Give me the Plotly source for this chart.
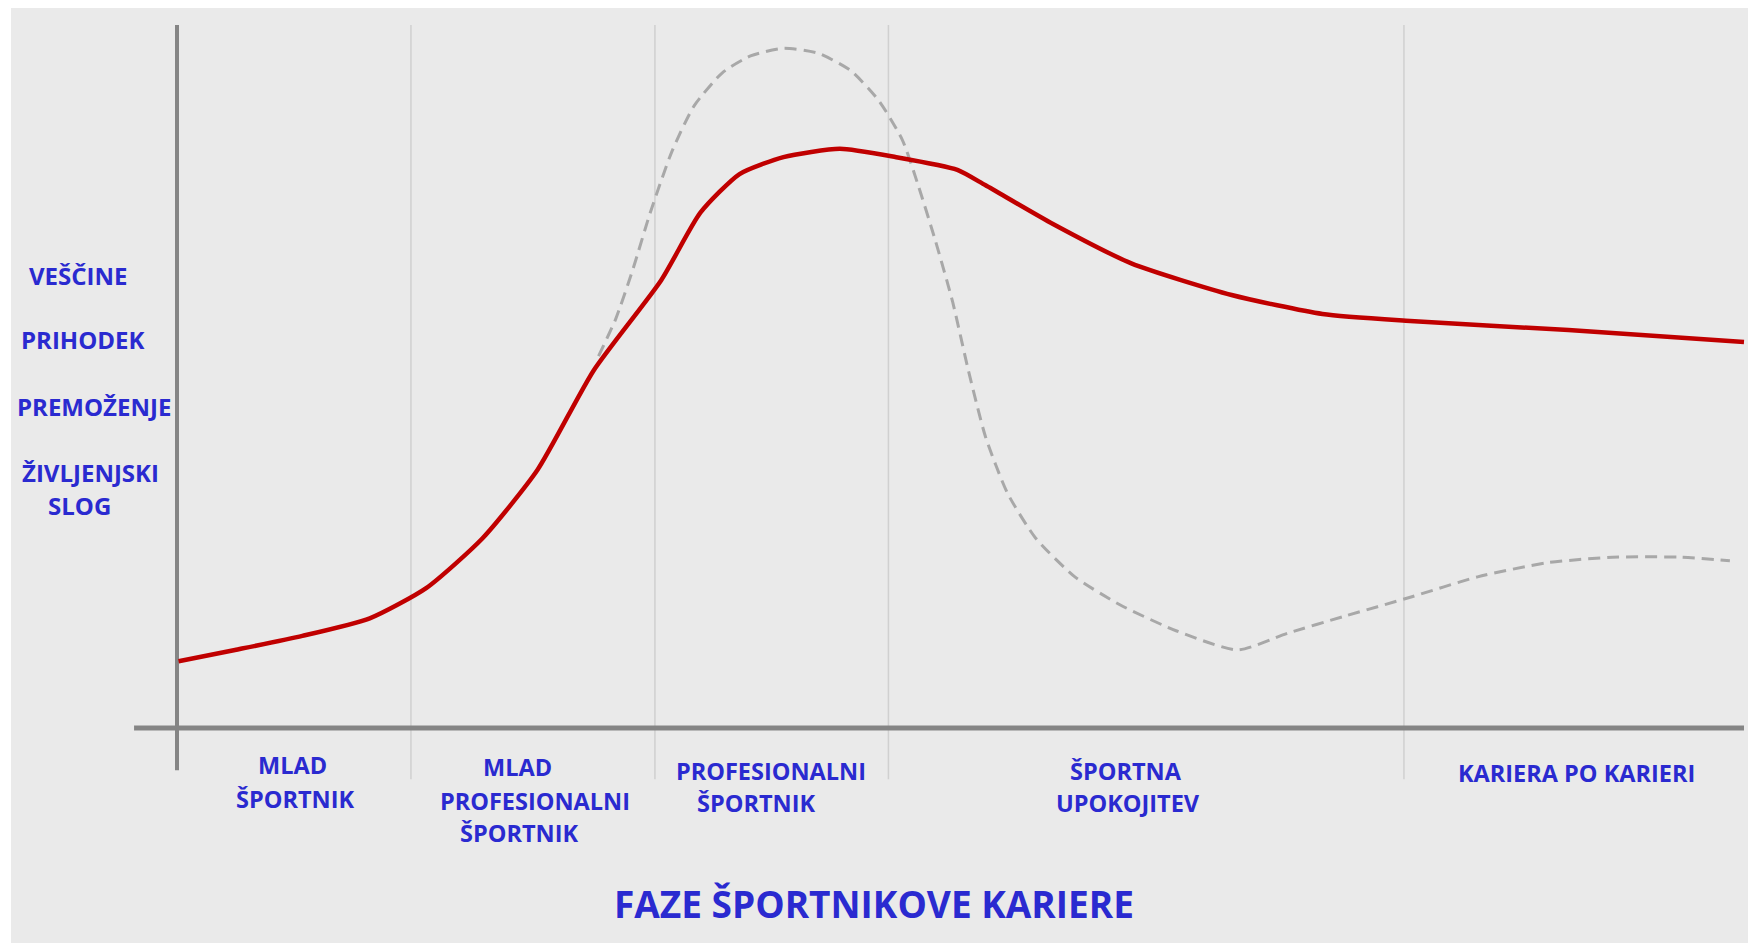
import plotly.graph_objects as go

# ---- data (career time 0-100, level 0-100) ----
red_x = [0.1, 3.7, 8.0, 12.3, 15.9, 19.5, 23.0, 26.6, 30.9, 33.4, 35.9, 38.7, 42.3,
         45.9, 49.8, 51.6, 55.9, 60.9, 67.3, 73.1, 78.7, 88.8, 100.0]
red_y = [9.5, 11.1, 13.1, 15.6, 19.9, 27.0, 36.7, 50.9, 63.7, 73.3, 78.8, 81.2, 82.4,
         81.2, 79.4, 77.2, 71.7, 66.1, 61.6, 58.9, 57.9, 56.6, 54.9]

dash_x = [26.9, 28.0, 29.1, 30.2, 31.6, 33.0, 34.8, 36.6, 38.7, 40.9, 43.0, 44.8, 46.3,
          47.3, 48.4, 49.5, 50.5, 51.6, 53.0, 54.8, 57.3, 60.2, 63.8, 67.7, 70.9, 74.5,
          78.7, 83.0, 87.4, 91.6, 95.9, 99.1]
dash_y = [52.9, 58.2, 65.3, 73.3, 82.1, 88.5, 93.2, 95.6, 96.7, 96.0, 93.5, 89.2, 83.6,
          77.2, 69.3, 60.6, 50.9, 41.4, 33.4, 27.0, 21.5, 17.5, 13.8, 11.1, 13.5, 15.9,
          18.6, 21.5, 23.5, 24.3, 24.3, 23.8]

phase_bounds = [14.93, 30.5, 45.4, 78.3]

y_labels = ["VEŠČINE", "PRIHODEK", "PREMOŽENJE", "ŽIVLJENJSKI", "SLOG"]
phase_labels = [
    ["MLAD", "ŠPORTNIK"],
    ["MLAD", "PROFESIONALNI", "ŠPORTNIK"],
    ["PROFESIONALNI", "ŠPORTNIK"],
    ["ŠPORTNA", "UPOKOJITEV"],
    ["KARIERA PO KARIERI"],
]
title_text = "FAZE ŠPORTNIKOVE KARIERE"

# ---- layout helpers (positions) ----
y_label_pos = [(-6.3, 64.4), (-6.0, 55.2), (-5.3, 45.7), (-5.55, 36.4), (-6.2, 31.6)]
phase_label_pos = [
    [(7.34, -5.26), (7.53, -10.1)],
    [(21.76, -5.55), (22.85, -10.38), (21.83, -14.94)],
    [(37.9, -6.1), (36.95, -10.67)],
    [(60.56, -6.1), (60.69, -10.67)],
    [(89.28, -6.4)],
]

BLUE = "#2a2ad0"
FONT = "Open Sans"
W, H = 1748, 935  # page body adds an 8px offset

fig = go.Figure()

fig.add_trace(go.Scatter(
    x=dash_x, y=dash_y, mode="lines",
    line=dict(color="#a8a8a8", width=3, dash="12px,7px", shape="spline", smoothing=0.6),
    hoverinfo="skip", showlegend=False))
fig.add_trace(go.Scatter(
    x=red_x, y=red_y, mode="lines",
    line=dict(color="#c00000", width=4.5, shape="spline", smoothing=0.6),
    hoverinfo="skip", showlegend=False))

shapes = []
# background panel
shapes.append(dict(type="rect", xref="paper", yref="paper", x0=3/W, x1=1, y0=0, y1=1,
                   fillcolor="#eaeaea", line=dict(width=0), layer="below"))
# phase gridlines
for b in phase_bounds:
    shapes.append(dict(type="line", xref="x", yref="y", x0=b, x1=b, y0=-7.3, y1=100,
                       line=dict(color="#d0d0d0", width=1.5), layer="below"))
# axes
shapes.append(dict(type="line", xref="x", yref="y", x0=-2.74, x1=100, y0=0, y1=0,
                   line=dict(color="#858585", width=5), layer="below"))
shapes.append(dict(type="line", xref="x", yref="y", x0=0, x1=0, y0=-6.0, y1=100,
                   line=dict(color="#858585", width=4), layer="below"))

annotations = []
for txt, (ax, ay) in zip(y_labels, y_label_pos):
    annotations.append(dict(x=ax, y=ay, xref="x", yref="y", text=txt, showarrow=False,
                            xanchor="center", yanchor="middle",
                            font=dict(family=FONT, size=24, color=BLUE, weight="bold")))
for lines, poss in zip(phase_labels, phase_label_pos):
    for txt, (ax, ay) in zip(lines, poss):
        annotations.append(dict(x=ax, y=ay, xref="x", yref="y", text=txt, showarrow=False,
                                xanchor="center", yanchor="middle",
                                font=dict(family=FONT, size=23.5, color=BLUE, weight="bold")))
annotations.append(dict(x=44.48, y=-24.9, xref="x", yref="y", text=title_text, showarrow=False,
                        xanchor="center", yanchor="middle",
                        font=dict(family=FONT, size=37, color=BLUE, weight="bold")))

fig.update_layout(
    width=W, height=H,
    margin=dict(l=0, r=0, t=0, b=0),
    paper_bgcolor="white", plot_bgcolor="rgba(0,0,0,0)",
    xaxis=dict(range=[-10.785, 100.766], visible=False, fixedrange=True),
    yaxis=dict(range=[-30.58, 102.418], visible=False, fixedrange=True),
    shapes=shapes, annotations=annotations, showlegend=False,
)

fig.write_html("out.html")
